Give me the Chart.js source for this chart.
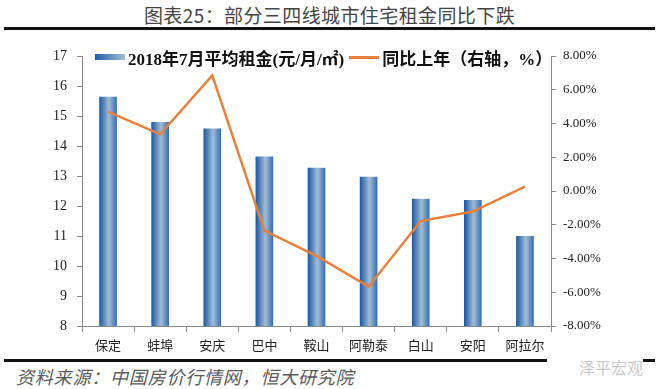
<!DOCTYPE html>
<html>
<head>
<meta charset="utf-8">
<script src="https://cdn.jsdelivr.net/npm/chart.js@4.4.1/dist/chart.umd.min.js"></script>
<style>
  html, body { margin: 0; padding: 0; background: #fff; }
  #wrap { position: relative; width: 659px; height: 389px; overflow: hidden; font-family: "Noto Sans CJK SC", sans-serif; }
  #title { position: absolute; left: 0; width: 659px; top: 3px; text-align: center; font-size: 19px; letter-spacing: 0.4px; color: #454545; line-height: 24px; }
  .rule { position: absolute; left: 4px; width: 651px; height: 3px; background: #111; }
  #chartBox { position: absolute; left: 0; top: 30px; width: 659px; height: 326px; }
  #legend { position: absolute; left: 95px; top: 46px; height: 22px; display: flex; align-items: center; font-family: "Liberation Serif", "Noto Sans CJK SC", serif; font-weight: bold; font-size: 17px; color: #111; white-space: nowrap; }
  #legend .bar { width: 30px; height: 6px; margin-right: 3px; background: linear-gradient(to right, #1d5eab, #a4bdd6); }
  #legend .line { width: 30px; height: 3px; background: #e8803a; margin: 0 3px 0 5px; }
  #source { position: absolute; left: 16px; top: 364px; font-size: 18px; letter-spacing: 0.8px; font-style: italic; color: #5a5a5a; line-height: 24px; }
  #mark { position: absolute; left: 547px; top: 355px; width: 96px; height: 24px; background: #fff; color: #c9c9c9; font-size: 16px; line-height: 24px; text-align: right; }
</style>
</head>
<body>
<div id="wrap">
  <div id="title">图表25：部分三四线城市住宅租金同比下跌</div>
  <div class="rule" style="top:27px"></div>
  <div id="chartBox"><canvas id="rentChart" width="659" height="326"></canvas></div>
  <div id="legend">
    <span class="bar"></span><span>2018年7月平均租金(元/月/㎡)</span>
    <span class="line"></span><span>同比上年（右轴，%）</span>
  </div>
  <div class="rule" style="top:359px"></div>
  <div id="mark">泽平宏观</div>
  <div id="source">资料来源：中国房价行情网，恒大研究院</div>
</div>
<script>
// ── data ──
var cities = ['保定', '蚌埠', '安庆', '巴中', '鞍山', '阿勒泰', '白山', '安阳', '阿拉尔'];
var rentValues = [15.63, 14.79, 14.57, 13.64, 13.26, 12.96, 12.23, 12.19, 10.99];
var yoyValues = [4.70, 3.36, 6.85, -2.35, -3.85, -5.67, -1.78, -1.22, 0.26];
var leftRange = [8, 17];
var rightRange = [-8, 8];

var axisGray = '#8a8a8a';
var BAR_W = 17;

// horizontal gradient per bar (dark edges, light centre)
function barFill(c) {
    var xs = c.chart.scales && c.chart.scales.x;
    if (!xs || c.dataIndex === undefined) return '#2e6cb2';
    var cx = xs.getPixelForValue(c.dataIndex);
    if (!isFinite(cx)) return '#2e6cb2';
    var g = c.chart.ctx.createLinearGradient(cx - BAR_W / 2, 0, cx + BAR_W / 2, 0);
    g.addColorStop(0, '#1b5ba8');
    g.addColorStop(0.55, '#a3bcd5');
    g.addColorStop(1, '#3570b5');
    return g;
}

var serif = '"Liberation Serif", "Times New Roman", serif';

new Chart(document.getElementById('rentChart').getContext('2d'), {
    type: 'bar',
    data: {
        labels: cities,
        datasets: [
            { type: 'line', label: '同比上年（右轴，%）', data: yoyValues, yAxisID: 'y1', borderColor: '#e8803a', borderWidth: 2.5, pointRadius: 0, tension: 0, fill: false, order: 0 },
            { type: 'bar', label: '2018年7月平均租金(元/月/㎡)', data: rentValues, yAxisID: 'y', backgroundColor: barFill, barThickness: BAR_W, borderWidth: 0, order: 1 }
        ]
    },
    options: {
        responsive: false, animation: false,
        layout: { padding: { top: 26, left: 0, right: 0, bottom: 0 } },
        plugins: { legend: { display: false }, tooltip: { enabled: false } },
        scales: {
            x: {
                grid: { display: true, drawOnChartArea: false, color: axisGray, tickLength: 6, offset: true },
                border: { color: axisGray },
                ticks: { color: '#222', padding: 5, font: { family: '"Noto Sans CJK SC", sans-serif', size: 13 } },
                afterFit: function(s) { s.height = 30; }
            },
            y: {
                position: 'left', min: leftRange[0], max: leftRange[1],
                grid: { display: true, drawOnChartArea: false, color: axisGray, tickLength: 5 },
                border: { color: axisGray },
                ticks: { stepSize: 1, color: '#222', padding: 10, font: { family: serif, size: 14 } },
                afterFit: function(s) { s.width = 82; }
            },
            y1: {
                position: 'right', min: rightRange[0], max: rightRange[1],
                grid: { display: true, drawOnChartArea: false, color: axisGray, tickLength: 5 },
                border: { color: axisGray },
                ticks: { stepSize: 2, color: '#222', padding: 7, font: { family: serif, size: 13 }, callback: function(v) { return v.toFixed(2) + '%'; } },
                afterFit: function(s) { s.width = 108; }
            }
        }
    }
});
</script>
</body>
</html>
